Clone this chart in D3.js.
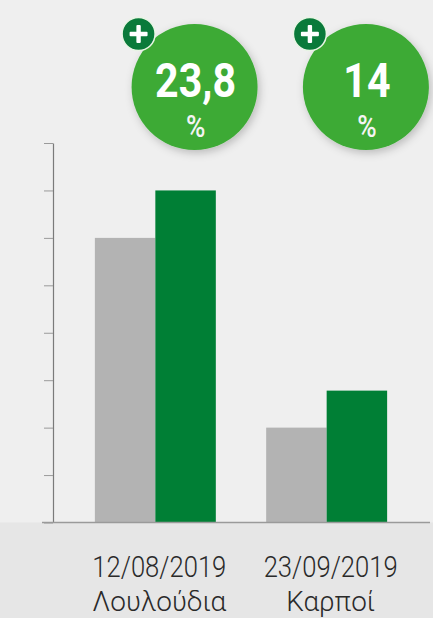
<!DOCTYPE html>
<html>
<head>
<meta charset="utf-8">
<script src="https://cdn.jsdelivr.net/npm/d3@7"></script>
<style>
  html, body { margin: 0; padding: 0; background: #efefef; }
  svg { display: block; }
</style>
</head>
<body>
<svg id="chart" width="433" height="618"></svg>
<script>
// ---- data ----
const dates = ["12/08/2019", "23/09/2019"];
const names = ["Λουλούδια", "Καρποί"];
const seriesKeys = ["before", "after"];
const beforeValues = [6, 2];
const afterValues = [7, 2.78];
const changeLabels = ["23,8", "14"];
const yTicks = [0, 1, 2, 3, 4, 5, 6, 7, 8];

const W = 433, H = 618;
const svg = d3.select("#chart");

const colors = { before: "#b3b3b3", after: "#007f35" };

const y = d3.scaleLinear().domain([0, 8]).range([522.5, 143]);
const x0 = d3.scaleBand().domain(dates).range([44.5, 437.5])
  .paddingInner(0.294).paddingOuter(0.294);
const x1 = d3.scaleBand().domain(seriesKeys).range([0, x0.bandwidth()]).padding(0);

// background
svg.append("rect").attr("width", W).attr("height", H).attr("fill", "#efefef");
svg.append("rect").attr("x", 0).attr("y", y(0)).attr("width", W).attr("height", H - y(0)).attr("fill", "#e6e6e6");

const defs = svg.append("defs");
const f = defs.append("filter").attr("id", "shadow").attr("x", "-30%").attr("y", "-30%").attr("width", "160%").attr("height", "160%");
f.append("feDropShadow").attr("dx", 2).attr("dy", 3).attr("stdDeviation", 4)
  .attr("flood-color", "#000").attr("flood-opacity", 0.22);

// y axis
const yAxis = d3.axisLeft(y).tickValues(yTicks).tickSize(9).tickSizeOuter(0).tickFormat("");
const gy = svg.append("g").attr("transform", "translate(53,0)").call(yAxis);
gy.select(".domain").attr("stroke", "#7a7a7a").attr("stroke-width", 1.2);
gy.selectAll(".tick line").attr("stroke", "#9a9a9a").attr("stroke-width", 1);

// bars
const data = dates.map((d, i) => ({ date: d, name: names[i], before: beforeValues[i], after: afterValues[i], label: changeLabels[i] }));

const groups = svg.append("g").selectAll("g").data(data).join("g")
  .attr("transform", d => `translate(${x0(d.date)},0)`);

groups.selectAll("rect").data(d => seriesKeys.map(k => ({ key: k, value: d[k] }))).join("rect")
  .attr("x", d => x1(d.key))
  .attr("y", d => y(d.value))
  .attr("width", x1.bandwidth())
  .attr("height", d => y(0) - y(d.value))
  .attr("fill", d => colors[d.key]);

// baseline
svg.append("line").attr("x1", 42).attr("x2", 430).attr("y1", y(0)).attr("y2", y(0))
  .attr("stroke", "#9a9a9a").attr("stroke-width", 1.5);

// category labels
const nameWidths = [134, 89];
const labels = svg.append("g").selectAll("text").data(data).join("text")
  .attr("text-anchor", "middle")
  .attr("font-family", "Roboto, 'Open Sans', sans-serif")
  .attr("font-weight", 300)
  .attr("fill", "#2a2a2a");
labels.append("tspan")
  .attr("x", d => x0(d.date) + x0.bandwidth() / 2 + 4)
  .attr("y", 576.5)
  .attr("font-size", 30)
  .attr("textLength", 134).attr("lengthAdjust", "spacingAndGlyphs")
  .text(d => d.date);
labels.append("tspan")
  .attr("x", d => x0(d.date) + x0.bandwidth() / 2 + 4)
  .attr("y", 610.5)
  .attr("font-size", 28)
  .attr("textLength", (d, i) => nameWidths[i]).attr("lengthAdjust", "spacingAndGlyphs")
  .text(d => d.name);

// change bubbles
const bub = svg.append("g").selectAll("g").data(data).join("g")
  .attr("transform", d => `translate(${x0(d.date) + x1("after") + x1.bandwidth() / 2 + 9},87)`);

bub.append("circle").attr("r", 63).attr("fill", "#3caa35").attr("filter", "url(#shadow)");

bub.append("text")
  .attr("transform", "translate(1,10) scale(0.84,1)")
  .attr("text-anchor", "middle")
  .attr("font-family", "Roboto, sans-serif")
  .attr("font-weight", 700)
  .attr("font-size", 49)
  .attr("fill", "#fff")
  .text(d => d.label);

bub.append("text")
  .attr("transform", "translate(1,50) scale(0.85,1)")
  .attr("text-anchor", "middle")
  .attr("font-family", "Roboto, sans-serif")
  .attr("font-weight", 500)
  .attr("font-size", 31)
  .attr("fill", "#f4f4f4")
  .text("%");

const badge = bub.append("g").attr("transform", "translate(-56,-53)");
badge.append("circle").attr("r", 16.5).attr("fill", "#0a7a3a").attr("stroke", "#e8f5e4").attr("stroke-width", 1.5);
badge.append("rect").attr("x", -9).attr("y", -2.2).attr("width", 18).attr("height", 4.4).attr("rx", 1).attr("fill", "#fff");
badge.append("rect").attr("x", -2.2).attr("y", -9).attr("width", 4.4).attr("height", 18).attr("rx", 1).attr("fill", "#fff");
</script>
</body>
</html>
